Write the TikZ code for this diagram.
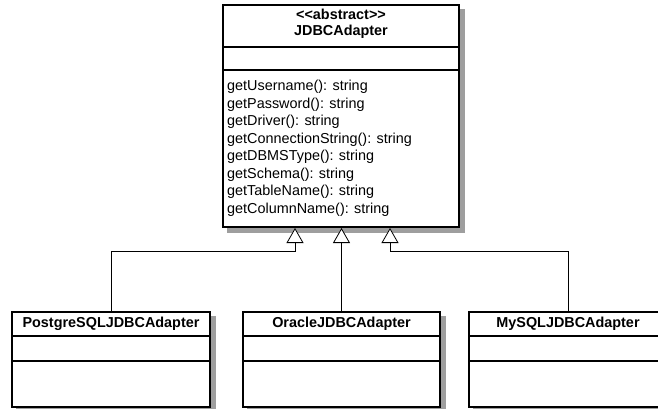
\documentclass[tikz,border=0pt]{standalone}
\usepackage{fontspec}
\setmainfont{Liberation Sans}
\usetikzlibrary{arrows.meta,backgrounds}

\tikzset{
  classbox/.style={draw, line width=2pt, fill=white, inner sep=0pt},
  divider/.style={line width=1.6pt},
  classname/.style={inner sep=0pt, font=\fontsize{14.4}{17.5}\selectfont\bfseries},
  method/.style={inner sep=0pt, anchor=west, font=\fontsize{14.4}{17.5}\selectfont},
  boxshadow/.style={fill=black!38},
  inherit/.style={line width=0.8pt, -{Triangle[width=17pt,length=15pt,fill=white,line width=0.8pt]}}
}

\begin{document}
\begin{tikzpicture}[x=1pt,y=-1pt]
\useasboundingbox (0,0) rectangle (658,409);

% abstract base class
\node[classbox, minimum width=236pt, minimum height=222pt] (abs) at (341,116) {};
\node[classname] (stereo) at ([yshift=-10pt]abs.north) {<\kern0pt<abstract>\kern0pt>};
\node[classname] (absname) at ([yshift=-28pt]abs.north) {JDBCAdapter};
\draw[divider] ([yshift=-43pt]abs.north west) -- ([yshift=-43pt]abs.north east);
\draw[divider] ([yshift=-66pt]abs.north west) -- ([yshift=-66pt]abs.north east);
\foreach \m [count=\i] in {getUsername(): string, getPassword(): string, getDriver(): string,
    getConnectionString(): string, getDBMSType(): string, getSchema(): string,
    getTableName(): string, getColumnName(): string}
  \node[method] (m\i) at (227,69.5+17.5*\i) {\m};

% subclasses
\node[classbox, minimum width=198pt, minimum height=95pt] (pg) at (111,359.5) {};
\node[classbox, minimum width=197pt, minimum height=95pt] (or) at (341.5,359.5) {};
\node[classbox, minimum width=198pt, minimum height=95pt] (my) at (568,359.5) {};
\node[classname] (pgname) at ([yshift=-12.5pt]pg.north) {PostgreSQLJDBCAdapter};
\node[classname] (orname) at ([yshift=-12.5pt]or.north) {OracleJDBCAdapter};
\node[classname] (myname) at ([yshift=-12.5pt]my.north) {MySQLJDBCAdapter};
\foreach \c in {pg,or,my} {
  \draw[divider] ([yshift=-25pt]\c.north west) -- ([yshift=-25pt]\c.north east);
  \draw[divider] ([yshift=-50pt]\c.north west) -- ([yshift=-50pt]\c.north east);
}

% shadows
\begin{scope}[on background layer]
\foreach \c in {abs,pg,or,my}
  \fill[boxshadow] ([shift={(5pt,-5pt)}]\c.south west) rectangle ([shift={(5pt,-5pt)}]\c.north east);
\end{scope}

% generalisation
\draw[inherit] (pg.north) -- ++(0,-60) -| ([xshift=-46pt]abs.south);
\draw[inherit] (or.north) -- (or.north |- abs.south);
\draw[inherit] (my.north) -- ++(0,-60) -| ([xshift=49pt]abs.south);
\end{tikzpicture}
\end{document}
